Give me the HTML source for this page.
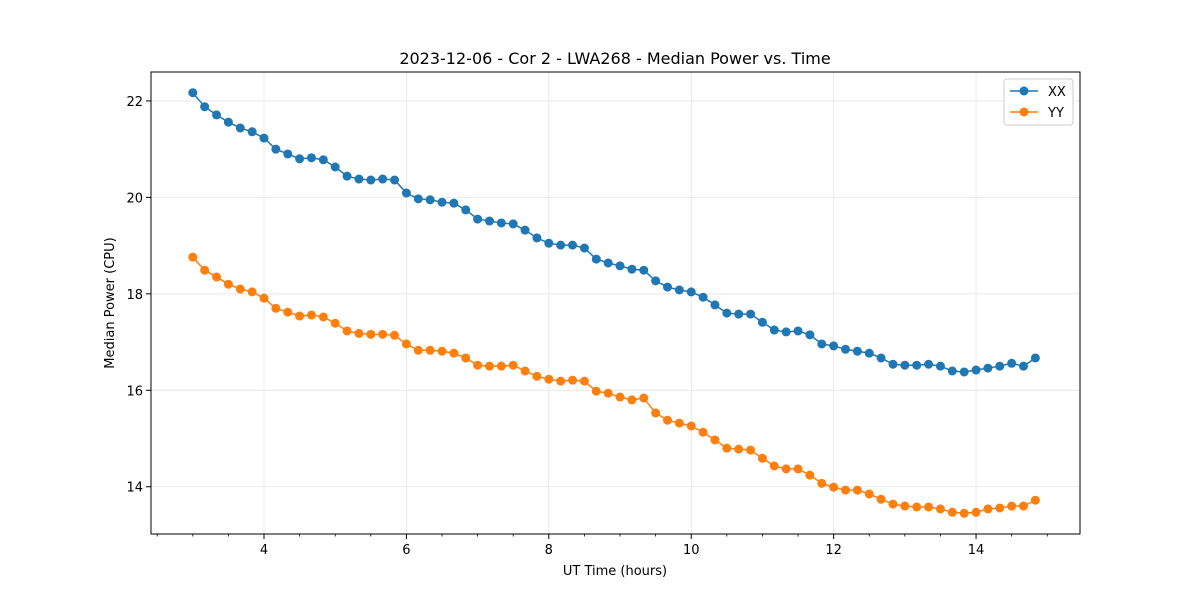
<!DOCTYPE html>
<html><head><meta charset="utf-8"><style>
body{margin:0;background:#fff;font-family:"Liberation Sans","DejaVu Sans",sans-serif}
svg text{font-family:"DejaVu Sans","Liberation Sans",sans-serif}
</style></head><body>
<svg id="chart" width="1200" height="600" xmlns="http://www.w3.org/2000/svg">
<rect width="1200" height="600" fill="#fff"/>
<text x="615" y="64" font-size="16" text-anchor="middle">2023-12-06 - Cor 2 - LWA268 - Median Power vs. Time</text>
<g id="grid"></g><g id="series"></g><g id="axes"></g>
<text x="615" y="575" font-size="13" text-anchor="middle">UT Time (hours)</text>
<text transform="translate(114,303) rotate(-90)" font-size="13" text-anchor="middle">Median Power (CPU)</text>
<g>
<rect x="1004" y="79" width="69" height="46" fill="#fff" stroke="#ccc" rx="3"/>
<line x1="1010" y1="91" x2="1038" y2="91" stroke="#1f77b4" stroke-width="1.5"/><circle cx="1024" cy="91" r="4.5" fill="#1f77b4"/>
<text x="1048" y="96" font-size="13">XX</text>
<line x1="1010" y1="112" x2="1038" y2="112" stroke="#ff7f0e" stroke-width="1.5"/><circle cx="1024" cy="112" r="4.5" fill="#ff7f0e"/>
<text x="1048" y="117" font-size="13">YY</text>
</g>
</svg>
<script>
const xxValues=[22.17,21.88,21.71,21.56,21.44,21.36,21.23,21.00,20.90,20.80,20.82,20.78,20.63,20.44,20.38,20.36,20.38,20.36,20.09,19.97,19.95,19.90,19.88,19.74,19.55,19.51,19.47,19.45,19.32,19.16,19.05,19.01,19.01,18.95,18.72,18.64,18.58,18.51,18.49,18.27,18.14,18.08,18.04,17.93,17.77,17.60,17.58,17.58,17.41,17.25,17.21,17.23,17.15,16.96,16.92,16.85,16.81,16.77,16.67,16.54,16.52,16.52,16.54,16.50,16.40,16.38,16.42,16.46,16.50,16.56,16.50,16.67];
const yyValues=[18.76,18.49,18.35,18.20,18.10,18.04,17.91,17.70,17.62,17.54,17.56,17.52,17.39,17.23,17.18,17.16,17.16,17.14,16.96,16.83,16.83,16.81,16.77,16.67,16.52,16.50,16.50,16.52,16.40,16.29,16.23,16.19,16.21,16.19,15.98,15.94,15.86,15.80,15.84,15.53,15.38,15.32,15.26,15.13,14.97,14.80,14.78,14.76,14.59,14.43,14.37,14.37,14.24,14.07,13.99,13.93,13.93,13.85,13.74,13.64,13.60,13.58,13.58,13.54,13.47,13.45,13.47,13.54,13.56,13.60,13.60,13.72];
const timeStart=3.0, timeStep=1/6;
const xTicks=[4,6,8,10,12,14];
const yTicks=[14,16,18,20,22];
const L=151,R=1080,T=72,B=534,xmin=2.413,xmax=15.46,ymin=13.02,ymax=22.60;
const sx=v=>L+(v-xmin)/(xmax-xmin)*(R-L);
const sy=v=>B-(v-ymin)/(ymax-ymin)*(B-T);
const NS='http://www.w3.org/2000/svg';
function mk(tag,attrs,parent){const e=document.createElementNS(NS,tag);for(const k in attrs)e.setAttribute(k,attrs[k]);parent.appendChild(e);return e;}
const grid=document.getElementById('grid'),axes=document.getElementById('axes'),ser=document.getElementById('series');
xTicks.forEach(t=>{const x=sx(t);
const g=mk('line',{x1:x,x2:x,y1:T,y2:B,stroke:'#e6e6e6','stroke-width':0.8},grid);

mk('line',{x1:x,x2:x,y1:B,y2:B+5,stroke:'#000'},axes);
const tx=mk('text',{x:x,y:B+20,'font-size':13,'text-anchor':'middle'},axes);tx.textContent=t;
});
for(let m=2.5;m<15.5;m+=0.5){if(m%2===0)continue;const x=sx(m);mk('line',{x1:x,x2:x,y1:B,y2:B+2.5,stroke:'#000','stroke-width':0.8},axes);}
yTicks.forEach(t=>{const y=sy(t);
const g=mk('line',{x1:L,x2:R,y1:y,y2:y,stroke:'#e6e6e6','stroke-width':0.8},grid);

mk('line',{x1:L-5,x2:L,y1:y,y2:y,stroke:'#000'},axes);
const tx=mk('text',{x:L-8,y:y+5,'font-size':13,'text-anchor':'end'},axes);tx.textContent=t;
});
const frame=mk('rect',{x:L,y:T,width:R-L,height:B-T,fill:'none',stroke:'#000','stroke-width':1},axes);

function draw(vals,color,name){
const pts=vals.map((v,i)=>[sx(timeStart+i*timeStep),sy(v)]);
const p=mk('polyline',{points:pts.map(p=>p.join(',')).join(' '),fill:'none',stroke:color,'stroke-width':1.5},ser);

pts.forEach(q=>{const c=mk('circle',{cx:q[0],cy:q[1],r:4.5,fill:color},ser);
});}
draw(xxValues,'#1f77b4','xx');
draw(yyValues,'#ff7f0e','yy');
</script>
</body></html>
